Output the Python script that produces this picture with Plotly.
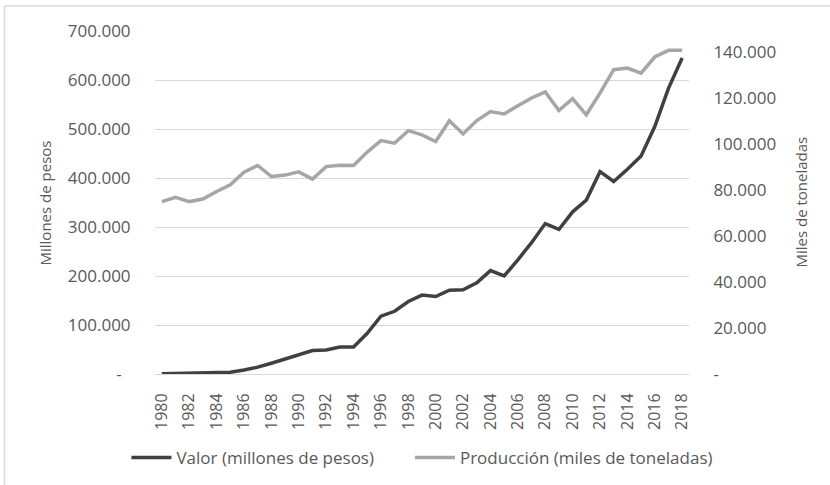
import plotly.graph_objects as go

years = list(range(1980, 2019))
valor = [500, 800, 1000, 1500, 2000, 3500, 8000, 14000, 22000, 31000,
         40000, 48000, 49000, 55000, 55000, 83000, 118000, 128000, 148000, 161000,
         158000, 171000, 172000, 186000, 211000, 200000, 233000, 268000, 307000, 295000,
         331000, 355000, 413000, 393000, 418000, 445000, 505000, 583000, 645000]
produccion = [74900, 76700, 74900, 76000, 79300, 82200, 87700, 90600, 85800, 86400,
              87800, 84700, 90100, 90700, 90600, 96400, 101400, 100300, 105700, 103900,
              101000, 110000, 104300, 110100, 114000, 113000, 116500, 119900, 122500, 114500,
              119600, 112600, 122000, 132200, 132900, 130700, 137700, 140600, 140600]

left_ticks = [0, 100000, 200000, 300000, 400000, 500000, 600000, 700000]
left_text = ["-\u00a0\u00a0", "100.000", "200.000", "300.000", "400.000", "500.000", "600.000", "700.000"]
right_ticks = [0, 20000, 40000, 60000, 80000, 100000, 120000, 140000]
right_text = ["-", "20.000", "40.000", "60.000", "80.000", "100.000", "120.000", "140.000"]
x_ticks = list(range(1980, 2019, 2))

FONT = "Open Sans"
TXT = "#595959"
GAP = "\u00a0" * 7

fig = go.Figure()
fig.add_trace(go.Scatter(x=years, y=valor, name="Valor (millones de pesos)" + GAP,
                         mode="lines", line=dict(color="#404040", width=3.5), yaxis="y"))
fig.add_trace(go.Scatter(x=years, y=produccion, name="Producción (miles de toneladas)",
                         mode="lines", line=dict(color="#a6a6a6", width=3.5), yaxis="y2"))

fig.update_layout(
    width=830, height=485,
    margin=dict(l=155, r=141, t=31, b=111, autoexpand=False),
    paper_bgcolor="white", plot_bgcolor="white",
    font=dict(family=FONT, size=16, color=TXT),
    showlegend=True,
    legend=dict(orientation="h", xanchor="left", yanchor="middle",
                x=-0.0535, y=-0.245,
                font=dict(size=17, color=TXT), itemwidth=40, tracegroupgap=0,
                bgcolor="rgba(0,0,0,0)"),
    xaxis=dict(range=[1979.5, 2018.5], tickvals=x_ticks, ticktext=[str(v) for v in x_ticks],
               tickangle=-90, showgrid=False, zeroline=False, showline=False,
               ticks="outside", ticklen=12, tickcolor="rgba(0,0,0,0)",
               tickfont=dict(size=16, color=TXT)),
    yaxis=dict(range=[0, 700000], tickvals=left_ticks, ticktext=left_text,
               showgrid=True, gridcolor="#d9d9d9", gridwidth=1,
               zeroline=True, zerolinecolor="#d9d9d9", zerolinewidth=1, showline=False,
               ticks="outside", ticklen=20, tickcolor="rgba(0,0,0,0)",
               tickfont=dict(size=17, color=TXT)),
    yaxis2=dict(range=[0, 149000], tickvals=right_ticks, ticktext=right_text,
                overlaying="y", side="right", showgrid=False, zeroline=False, showline=False,
                ticks="outside", ticklen=20, tickcolor="rgba(0,0,0,0)",
                tickfont=dict(size=17, color=TXT)),
    annotations=[
        dict(text="Millones de pesos", xref="paper", yref="paper", x=-0.206, y=0.5,
             xanchor="center", yanchor="middle", textangle=-90, showarrow=False,
             font=dict(size=15, color=TXT)),
        dict(text="Miles de toneladas", xref="paper", yref="paper", x=1.208, y=0.5,
             xanchor="center", yanchor="middle", textangle=-90, showarrow=False,
             font=dict(size=15, color=TXT)),
    ],
    shapes=[
        dict(type="line", xref="paper", yref="paper", x0=-0.2818, x1=1.27, y0=1.0729, y1=1.0729,
             line=dict(color="#d9d9d9", width=1.5), layer="below"),
        dict(type="line", xref="paper", yref="paper", x0=-0.2818, x1=-0.2818, y0=1.0729, y1=-0.33,
             line=dict(color="#d9d9d9", width=1.5), layer="below"),
    ],
)

fig.write_html("out.html", config={"displayModeBar": False},
               post_script="document.body.style.margin='0';")
